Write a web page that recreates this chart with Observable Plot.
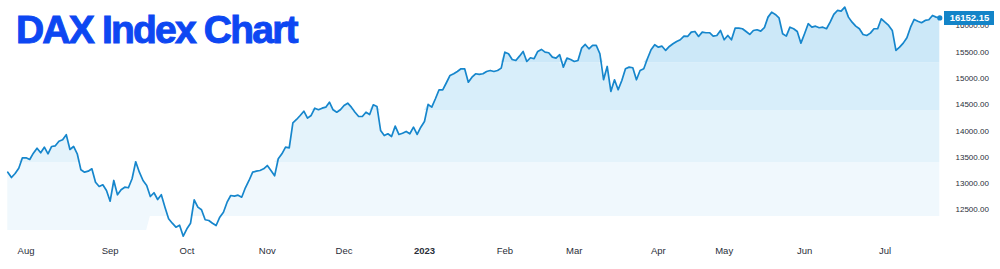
<!DOCTYPE html>
<html><head><meta charset="utf-8">
<script src="https://cdn.jsdelivr.net/npm/d3@7"></script>
<script src="https://cdn.jsdelivr.net/npm/@observablehq/plot@0.6"></script>
<style>
html,body{margin:0;padding:0;background:#fff;}
#wrap{position:relative;width:1000px;height:269px;overflow:hidden;}
#title{position:absolute;left:16px;top:10px;font:bold 39px/39px "Liberation Sans",Arial,sans-serif;letter-spacing:-1.8px;color:#0d47f2;-webkit-text-stroke:1px #0d47f2;white-space:nowrap;}
</style></head><body>
<div id="wrap"><div id="chart"></div><div id="title">DAX Index Chart</div></div>
<script>
// Daily closes (trading days, late Jul 2022 – mid Jul 2023)
const closes = [
13216,13115,13191,13292,13490,13490,13458,13578,13673,13585,13692,13566,13705,13718,13806,13833,13928,13648,13705,13566,
13261,13216,13235,13280,13025,12944,12976,12867,12664,13058,12786,12881,12930,12919,13090,13414,13216,13058,12963,12753,
12824,12696,12786,12550,12329,12245,12169,12207,11997,12138,12245,12690,12550,12500,12310,12296,12245,12201,12359,12454,
12645,12772,12759,12778,12740,12919,13058,13216,13235,13248,13280,13343,13248,13147,13471,13566,13692,13680,14156,14219,
14295,14377,14244,14295,14434,14404,14434,14453,14548,14404,14358,14404,14486,14529,14453,14358,14276,14276,14358,14314,
14499,14467,14010,13914,13947,13895,14092,13934,13958,13991,13947,14072,13934,14072,14181,14505,14453,14613,14784,14784,
14918,15057,15089,15133,15184,15184,14929,15024,15089,15076,15089,15133,15152,15133,15152,15196,15500,15470,15361,15342,
15424,15514,15323,15394,15375,15514,15552,15500,15489,15405,15386,15451,15215,15386,15361,15323,15342,15576,15647,15565,
15628,15628,15470,14975,15228,14752,14975,14784,14961,15184,15215,15203,14975,15152,15184,15375,15546,15641,15595,15614,
15533,15609,15660,15704,15736,15805,15799,15881,15894,15799,15881,15870,15870,15805,15818,15913,15736,15818,15736,15957,
15957,15946,15894,15837,15913,15927,15900,15965,16167,16262,16218,16155,15851,15805,15976,15946,15894,15672,15851,16041,
15976,15995,15965,15976,15946,16071,16218,16294,16281,16357,16167,16071,15995,15946,15837,15818,15862,15946,15946,16136,
16071,16009,15913,15533,15595,15672,15774,15976,16123,16090,16060,16104,16117,16199,16167,16152.15
];
const lastPrice = 16152.15;
const monthTickIndex = [5, 28, 49, 71, 92, 114, 136, 155, 178, 196, 218, 240];
const monthTickLabels = ["Aug","Sep","Oct","Nov","Dec","2023","Feb","Mar","Apr","May","Jun","Jul"];
const yearTickLabel = "2023";
const priceTicks = [12500, 13000, 13500, 14000, 14500, 15000, 15500, 16000];
const bandEdges = [13400, 14390, 15300];
const baseEarly = 12106, baseLate = 12372, baseSwitchIndex = 38.5;

const data = closes.map((v, i) => ({i, v}));
const bandColors = ["#f0f8fd", "#e4f3fb", "#d8eefa", "#cce8f8"];
const lineColor = "#1686cc";
const base = d => d.i < baseSwitchIndex ? baseEarly : baseLate;
const bandMarks = bandColors.map((c, k) => {
  const lo = k === 0 ? base : () => bandEdges[k - 1];
  const hi = k < bandEdges.length ? bandEdges[k] : Infinity;
  return Plot.areaY(data, {
    x: "i",
    y1: d => lo(d),
    y2: d => Math.max(lo(d), Math.min(d.v, hi)),
    fill: c
  });
});
const labelOf = d => monthTickLabels[monthTickIndex.indexOf(d)];
const chart = Plot.plot({
  width: 1000, height: 269,
  marginLeft: 0, marginRight: 60, marginTop: 0, marginBottom: 30,
  style: {fontFamily: "'Liberation Sans', Arial, sans-serif", background: "#fff", color: "#2a2e39"},
  x: {domain: [0, closes.length - 1], range: [7.3, 939.3]},
  y: {domain: [12500, 16000], range: [209.3, 25.4]},
  marks: [
    ...bandMarks,
    Plot.axisY(priceTicks, {anchor: "right", tickSize: 0, tickPadding: 15, tickFormat: d => d.toFixed(2), fontSize: 8, fill: "#2a2e39", label: null}),
    Plot.axisX(monthTickIndex.filter(d => labelOf(d) !== yearTickLabel), {anchor: "bottom", tickSize: 0, tickPadding: 8, tickFormat: labelOf, fontSize: 9.5, fill: "#2a2e39", label: null}),
    Plot.axisX(monthTickIndex.filter(d => labelOf(d) === yearTickLabel), {anchor: "bottom", tickSize: 0, tickPadding: 8, tickFormat: labelOf, fontSize: 9.5, fontWeight: "bold", fill: "#2a2e39", label: null}),
    Plot.line(data, {x: "i", y: "v", stroke: lineColor, strokeWidth: 1.7}),
    Plot.dot([data[data.length - 1]], {x: "i", y: "v", r: 2.6, fill: lineColor}),
    Plot.ruleY([lastPrice], {stroke: "#1384c8", strokeWidth: 14, insetLeft: 944, insetRight: -54}),
    Plot.text([lastPrice], {y: d => d, text: d => d.toFixed(2), frameAnchor: "right", textAnchor: "middle", dx: 29, fill: "#fff", fontWeight: "bold", fontSize: 9.5})
  ]
});
document.getElementById("chart").appendChild(chart);
</script>
</body></html>
